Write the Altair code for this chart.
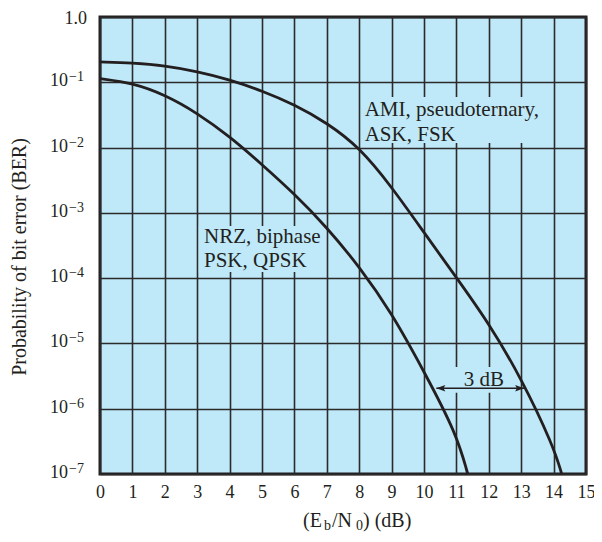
import altair as alt
import pandas as pd

# ---- data (Eb/N0 in dB, bit error probability) ----
nrz_x = [0, 1, 2, 3, 4, 5, 6, 7, 8, 9, 10, 11, 11.35]
nrz_ber = [0.114, 0.0977, 0.0646, 0.0339, 0.0148, 0.00550, 0.00195, 6.03e-4,
           1.51e-4, 2.95e-5, 3.72e-6, 4.17e-7, 1.0e-7]
ami_x = [0, 1, 2, 3, 4, 5, 6, 7, 8, 9, 10, 11, 12, 13, 14, 14.25]
ami_ber = [0.205, 0.198, 0.180, 0.146, 0.110, 0.0741, 0.0457, 0.0240, 0.0102,
           0.00251, 5.0e-4, 1.02e-4, 2.04e-5, 2.95e-6, 2.63e-7, 1.0e-7]

x_ticks = list(range(16))
y_ticks = [1.0, 1e-1, 1e-2, 1e-3, 1e-4, 1e-5, 1e-6, 1e-7]
y_base = ["1.0", "10", "10", "10", "10", "10", "10", "10"]
y_exp = ["", "\u22121", "\u22122", "\u22123", "\u22124", "\u22125", "\u22126", "\u22127"]

ami_label = ["AMI, pseudoternary,", "ASK, FSK"]
nrz_label = ["NRZ, biphase", "PSK, QPSK"]
gap_label = "3 dB"
y_title = "Probability of bit error (BER)"
x_title_parts = ["(E", "b", "/N", "0", ") (dB)"]

# ---- styling ----
FONT = "Liberation Serif"
INK = "#231f20"
BG = "#bfe9f8"
W, H = 486, 457

xscale = alt.Scale(domain=[0, 15], nice=False, zero=False)
yscale = alt.Scale(type="log", domain=[1e-7, 1], nice=False)
xaxis = alt.Axis(values=x_ticks, grid=True, ticks=False, domain=False, title=None,
                 labelFont=FONT, labelFontSize=18, labelColor=INK, labelPadding=9,
                 gridColor="#2b2b2b", gridWidth=1.6, gridOpacity=1, labelFlush=False)
yaxis = alt.Axis(values=y_ticks, grid=True, ticks=False, domain=False, title=None,
                 labels=False, gridColor="#2b2b2b", gridWidth=1.6, gridOpacity=1)


def X(field="x"):
    return alt.X(f"{field}:Q", scale=xscale, axis=xaxis)


def Y(field="ber"):
    return alt.Y(f"{field}:Q", scale=yscale, axis=yaxis)


curves = pd.DataFrame({
    "x": nrz_x + ami_x,
    "ber": nrz_ber + ami_ber,
    "series": ["NRZ"] * len(nrz_x) + ["AMI"] * len(ami_x),
})

# background patches behind the annotation texts (they interrupt the grid)
patches = pd.DataFrame({
    "x": [8.08, 3.05, 10.7],
    "x2": [13.9, 6.95, 12.6],
    "ber": [0.0596, 6.3e-4, 4.37e-6],
    "ber2": [0.0117, 1.24e-4, 1.75e-6],
})
patch_layer = alt.Chart(patches).mark_rect(fill=BG).encode(
    x=X(), x2="x2:Q", y=Y(), y2="ber2:Q")

line_layer = alt.Chart(curves).mark_line(
    color=INK, strokeWidth=2.8, interpolate="basis"
).encode(x=X(), y=Y(), detail="series:N")

# 3 dB arrow
arrow = pd.DataFrame({"x": [10.38], "x2": [13.09], "ber": [2.06e-6]})
arrow_line = alt.Chart(arrow).mark_rule(color=INK, strokeWidth=1.5).encode(
    x=X(), x2="x2:Q", y=Y())
left_head = alt.Chart(arrow).mark_point(
    shape="M0,0 L1,-0.36 L0.8,0 L1,0.36 Z", filled=True, size=324, color=INK, opacity=1
).encode(x=X(), y=Y())
right_head = alt.Chart(arrow).mark_point(
    shape="M0,0 L-1,-0.36 L-0.8,0 L-1,0.36 Z", filled=True, size=324, color=INK, opacity=1
).encode(x=alt.X("x2:Q", scale=xscale, axis=xaxis), y=Y())

# annotation texts
ann = pd.DataFrame({
    "x": [8.17, 8.17, 3.21, 3.21],
    "ber": [0.0305, 0.0126, 3.5e-4, 1.5e-4],
    "t": ami_label + nrz_label,
})
ann_layer = alt.Chart(ann).mark_text(
    font=FONT, fontSize=21, color=INK, align="left", baseline="alphabetic"
).encode(x=X(), y=Y(), text="t:N")

gap = pd.DataFrame({"x": [11.85], "ber": [2.23e-6], "t": [gap_label]})
gap_layer = alt.Chart(gap).mark_text(
    font=FONT, fontSize=21, color=INK, align="center", baseline="alphabetic"
).encode(x=X(), y=Y(), text="t:N")

# y tick labels with superscript exponents
ylab = pd.DataFrame({"ber": y_ticks, "base": y_base, "exp": y_exp})
one_layer = alt.Chart(ylab).transform_filter("datum.base == '1.0'").mark_text(
    font=FONT, fontSize=18, color=INK, align="right", baseline="alphabetic", dy=7
).encode(x=alt.value(-13), y=Y(), text="base:N")
ten_layer = alt.Chart(ylab).transform_filter("datum.base == '10'").mark_text(
    font=FONT, fontSize=18, color=INK, align="right", baseline="alphabetic", dy=4
).encode(x=alt.value(-32), y=Y(), text="base:N")
exp_layer = alt.Chart(ylab).transform_filter("datum.base == '10'").mark_text(
    font=FONT, fontSize=14, color=INK, align="left", baseline="alphabetic", dy=-1
).encode(x=alt.value(-31), y=Y(), text="exp:N")

# axis titles
ytitle = alt.Chart(pd.DataFrame({"t": [y_title]})).mark_text(
    font=FONT, fontSize=20, color=INK, align="center", baseline="alphabetic", angle=270
).encode(x=alt.value(-74), y=alt.value(240), text="t:N")

xt = pd.DataFrame({"t": x_title_parts})
main = alt.Chart(xt).mark_text(font=FONT, fontSize=20, color=INK, align="left", baseline="alphabetic")
sub = alt.Chart(xt).mark_text(font=FONT, fontSize=14, color=INK, align="left", baseline="alphabetic")
xt1 = main.transform_filter("datum.t == '(E'").encode(x=alt.value(203), y=alt.value(510), text="t:N")
xt2 = sub.transform_filter("datum.t == 'b'").encode(x=alt.value(224), y=alt.value(513), text="t:N")
xt3 = main.transform_filter("datum.t == '/N'").encode(x=alt.value(232), y=alt.value(510), text="t:N")
xt4 = sub.transform_filter("datum.t == '0'").encode(x=alt.value(256), y=alt.value(513), text="t:N")
xt5 = main.transform_filter("datum.t == ') (dB)'").encode(x=alt.value(263), y=alt.value(510), text="t:N")

chart = alt.layer(
    patch_layer, line_layer, arrow_line, left_head, right_head,
    ann_layer, gap_layer, one_layer, ten_layer, exp_layer,
    ytitle, xt1, xt2, xt3, xt4, xt5,
).properties(
    width=W, height=H,
    autosize=alt.AutoSizeParams(type="none"),
    padding={"left": 92, "top": 9, "right": 8, "bottom": 60},
).configure_view(
    fill=BG, stroke=INK, strokeWidth=3
)

chart.save("out.html", embed_options={"renderer": "svg", "actions": False})
